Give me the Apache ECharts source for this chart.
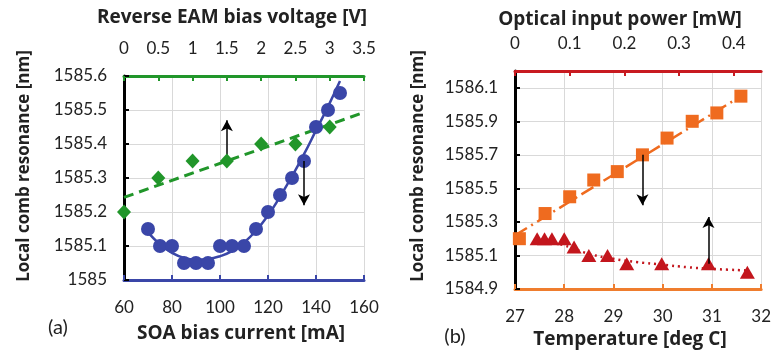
<!DOCTYPE html>
<html>
<head>
<meta charset="utf-8">
<script src="https://cdn.jsdelivr.net/npm/echarts@6/dist/echarts.min.js"></script>
<style>
html, body { margin: 0; padding: 0; background: #fff; }
#main { width: 774px; height: 356px; }
</style>
</head>
<body>
<div id="main"></div>
<script>
// (a) resonance vs SOA bias current (bottom axis)
const soaCurrent = [70, 75, 80, 85, 90, 95, 100, 105, 110, 115, 120, 125, 130, 135, 140, 145, 150];
const soaResonance = [1585.15, 1585.1, 1585.1, 1585.05, 1585.05, 1585.05, 1585.1, 1585.1, 1585.1,
  1585.15, 1585.2, 1585.25, 1585.3, 1585.35, 1585.45, 1585.5, 1585.55];
// fitted curve
const soaFitCurrent = [70, 75, 80, 85, 90, 95, 100, 105, 110, 115, 120, 125, 130, 135, 140, 145, 150];
const soaFitResonance = [1585.14, 1585.105, 1585.08, 1585.065, 1585.06, 1585.062, 1585.07, 1585.085, 1585.11,
  1585.145, 1585.19, 1585.245, 1585.305, 1585.37, 1585.44, 1585.51, 1585.585];

// (a) resonance vs reverse EAM bias voltage (top axis)
const eamVoltage = [0, 0.5, 1, 1.5, 2, 2.5, 3];
const eamResonance = [1585.2, 1585.3, 1585.35, 1585.35, 1585.4, 1585.4, 1585.45];
const eamFitVoltage = [0, 3.5];
const eamFitResonance = [1585.243, 1585.493];

// (b) resonance vs optical input power (top axis)
const powerIn = [0.008, 0.055, 0.1, 0.144, 0.187, 0.233, 0.278, 0.324, 0.369, 0.413];
const powerResonance = [1585.2, 1585.35, 1585.45, 1585.55, 1585.6, 1585.7, 1585.8, 1585.9, 1585.95, 1586.05];
const powerFitIn = [0, 0.413];
const powerFitResonance = [1585.22, 1586.05];

// (b) resonance vs temperature (bottom axis)
const tempC = [27.45, 27.6, 27.75, 28.0, 28.2, 28.5, 28.88, 29.27, 29.98, 30.93, 31.72];
const tempResonance = [1585.2, 1585.2, 1585.2, 1585.2, 1585.15, 1585.1, 1585.1, 1585.05, 1585.05, 1585.05, 1585.0];
const tempFitC = [27.45, 28, 28.5, 29, 29.5, 30, 30.5, 31, 31.75];
const tempFitResonance = [1585.2, 1585.16, 1585.11, 1585.08, 1585.06, 1585.045, 1585.03, 1585.02, 1585.01];

// arrows: [x, yFrom, yTo]
const arrowEam = [1.5, 1585.35, 1585.47];
const arrowSoa = [135, 1585.35, 1585.22];
const arrowPower = [0.233, 1585.7, 1585.4];
const arrowTemp = [30.93, 1585.05, 1585.33];

// right y axis tick labels start at this value, step 0.2
const rightTickBase = 1584.9;

const blue = '#3a46a8';
const green = '#21962a';
const orange = '#ef6b1f';
const red = '#c3161d';
const orangeAxis = '#ef7d2e';
const redAxis = '#c81a20';
const gridGray = '#d9d9d9';
const textCol = '#222';
const font = 'Lato';
const titleFont = 'bold 19px "Open Sans"';
const yTitleFont = 'bold 17px "Open Sans"';

const pairs = (xs, ys) => xs.map((x, i) => [x, ys[i]]);
const arrow = (a) => ({
  type: 'line', data: [], silent: true,
  markLine: {
    silent: true, animation: false,
    symbol: ['none', 'arrow'], symbolSize: [9, 11],
    label: { show: false },
    lineStyle: { color: '#000', width: 1.5, type: 'solid' },
    data: [[{ coord: [a[0], a[1]] }, { coord: [a[0], a[2]] }]]
  }
});
const axisBase = (color) => ({
  type: 'value',
  axisLine: { show: true, onZero: false, lineStyle: { color: color, width: 3 } },
  axisTick: { show: true, inside: true, length: 5, lineStyle: { color: color, width: 2 } },
  axisLabel: { color: textCol, fontSize: 17, fontFamily: font, margin: 19 },
  splitLine: { show: false }
});

let chartDom = document.getElementById('main');
let myChart = echarts.init(chartDom);
let option = {
  animation: false,
  grid: [
    { left: 124, top: 76, width: 240, height: 204 },
    { left: 515, top: 71, width: 247, height: 218 }
  ],
  xAxis: [
    Object.assign(axisBase(blue), {
      gridIndex: 0, position: 'bottom', min: 60, max: 160, interval: 20,
      splitLine: { show: true, lineStyle: { color: gridGray, width: 1 } }
    }),
    Object.assign(axisBase(green), {
      gridIndex: 0, position: 'top', min: 0, max: 3.5, interval: 0.5
    }),
    Object.assign(axisBase(orangeAxis), {
      gridIndex: 1, position: 'bottom', min: 27, max: 32, interval: 1,
      splitLine: { show: true, lineStyle: { color: gridGray, width: 1 } }
    }),
    Object.assign(axisBase(redAxis), {
      gridIndex: 1, position: 'top', min: 0, max: 0.45, interval: 0.1
    })
  ],
  yAxis: [
    Object.assign(axisBase('#000'), {
      gridIndex: 0, position: 'left', min: 1585, max: 1585.6, interval: 0.1,
      axisLabel: {
        color: textCol, fontSize: 17, fontFamily: font, margin: 17,
        formatter: (v) => String(+v.toFixed(1))
      },
      splitLine: { show: true, lineStyle: { color: gridGray, width: 1 } }
    }),
    { type: 'value', gridIndex: 1, min: 1584.9, max: 1586.2, show: false },
    Object.assign(axisBase('#000'), {
      gridIndex: 1, position: 'left', min: 0, max: 1.3, interval: 0.2,
      axisLabel: {
        color: textCol, fontSize: 17, fontFamily: font, margin: 17, showMaxLabel: false,
        formatter: (v) => (rightTickBase + v).toFixed(1)
      },
      splitLine: { show: true, lineStyle: { color: gridGray, width: 1 } }
    })
  ],
  series: [
    {
      type: 'line', xAxisIndex: 0, yAxisIndex: 0, data: pairs(soaFitCurrent, soaFitResonance),
      smooth: true, showSymbol: false, lineStyle: { color: blue, width: 2.5 }, z: 3
    },
    {
      type: 'scatter', xAxisIndex: 0, yAxisIndex: 0, data: pairs(soaCurrent, soaResonance),
      symbol: 'circle', symbolSize: 14, itemStyle: { color: blue, opacity: 1 }, z: 4
    },
    {
      type: 'line', xAxisIndex: 1, yAxisIndex: 0, data: pairs(eamFitVoltage, eamFitResonance),
      showSymbol: false, lineStyle: { color: green, width: 3, type: [10, 6] }, z: 3
    },
    {
      type: 'scatter', xAxisIndex: 1, yAxisIndex: 0, data: pairs(eamVoltage, eamResonance),
      symbol: 'diamond', symbolSize: [14, 15], itemStyle: { color: green, opacity: 1 }, z: 5
    },
    Object.assign(arrow(arrowEam), { xAxisIndex: 1, yAxisIndex: 0 }),
    Object.assign(arrow(arrowSoa), { xAxisIndex: 0, yAxisIndex: 0 }),
    {
      type: 'line', xAxisIndex: 3, yAxisIndex: 1, data: pairs(powerFitIn, powerFitResonance),
      showSymbol: false, lineStyle: { color: orange, width: 2.5, type: [14, 5, 2, 5] }, z: 3
    },
    {
      type: 'scatter', xAxisIndex: 3, yAxisIndex: 1, data: pairs(powerIn, powerResonance),
      symbol: 'rect', symbolSize: 13, itemStyle: { color: orange, opacity: 1 }, z: 4
    },
    {
      type: 'line', xAxisIndex: 2, yAxisIndex: 1, data: pairs(tempFitC, tempFitResonance),
      smooth: true, showSymbol: false, lineStyle: { color: red, width: 2.5, type: [2, 4] }, z: 3
    },
    {
      type: 'scatter', xAxisIndex: 2, yAxisIndex: 1, data: pairs(tempC, tempResonance),
      symbol: 'triangle', symbolSize: [15, 13], itemStyle: { color: red, opacity: 1 }, z: 4
    },
    Object.assign(arrow(arrowPower), { xAxisIndex: 3, yAxisIndex: 1 }),
    Object.assign(arrow(arrowTemp), { xAxisIndex: 2, yAxisIndex: 1 })
  ],
  graphic: [
    { type: 'text', x: 232, y: 18, style: { text: 'Reverse EAM bias voltage [V]', fill: textCol, font: titleFont, align: 'center', verticalAlign: 'middle' } },
    { type: 'text', x: 241, y: 334, style: { text: 'SOA bias current [mA]', fill: textCol, font: titleFont, align: 'center', verticalAlign: 'middle' } },
    { type: 'text', x: 58, y: 328, style: { text: '(a)', fill: textCol, font: '20px ' + font, align: 'center', verticalAlign: 'middle' } },
    { type: 'text', x: 24, y: 166, rotation: Math.PI / 2, style: { text: 'Local comb resonance [nm]', fill: textCol, font: yTitleFont, align: 'center', verticalAlign: 'middle' } },
    { type: 'text', x: 620, y: 20, style: { text: 'Optical input power [mW]', fill: textCol, font: titleFont, align: 'center', verticalAlign: 'middle' } },
    { type: 'text', x: 630, y: 340, style: { text: 'Temperature [deg C]', fill: textCol, font: titleFont, align: 'center', verticalAlign: 'middle' } },
    { type: 'text', x: 455, y: 337, style: { text: '(b)', fill: textCol, font: '20px ' + font, align: 'center', verticalAlign: 'middle' } },
    { type: 'text', x: 418, y: 166, rotation: Math.PI / 2, style: { text: 'Local comb resonance [nm]', fill: textCol, font: yTitleFont, align: 'center', verticalAlign: 'middle' } }
  ]
};
option && myChart.setOption(option);
</script>
</body>
</html>
